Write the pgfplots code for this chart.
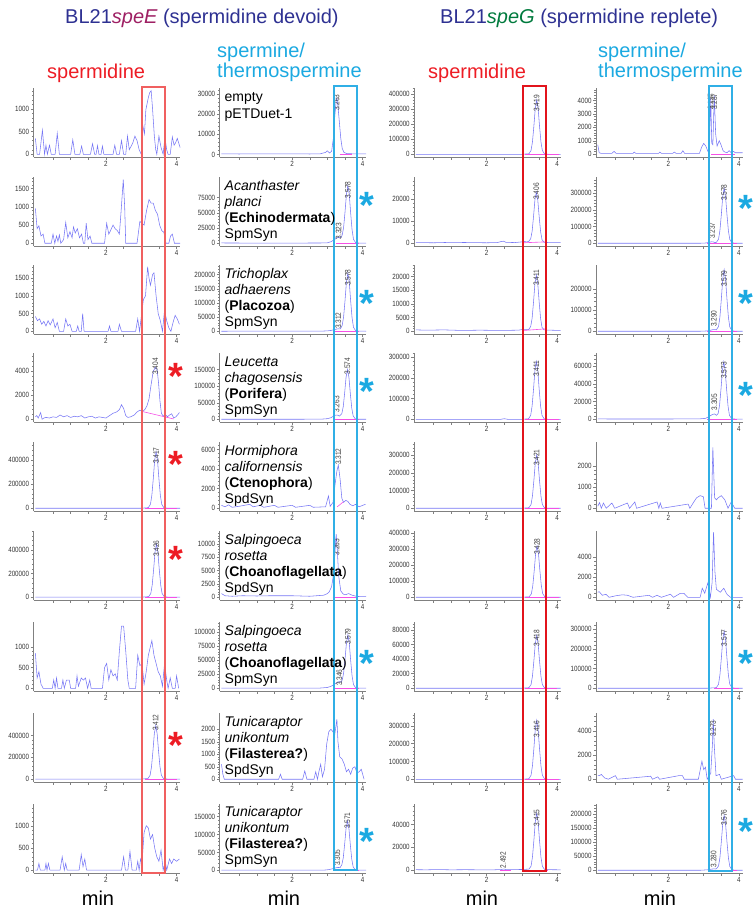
\documentclass[border=0pt]{standalone}
\usepackage{fontspec}
\setmainfont{Liberation Sans}
\newfontfamily\narrowfont[FakeStretch=0.82]{Liberation Sans}
\usepackage{pgfplots}
\pgfplotsset{compat=1.18}

\definecolor{titleblue}{RGB}{46,49,146}
\definecolor{speEcol}{RGB}{158,31,99}
\definecolor{speGcol}{RGB}{0,122,61}
\definecolor{sred}{RGB}{237,28,36}
\definecolor{scyan}{RGB}{27,169,225}
\definecolor{tracecol}{RGB}{118,118,245}
\definecolor{pinkbase}{RGB}{245,80,230}
\definecolor{rectredA}{RGB}{240,96,96}
\definecolor{rectredB}{RGB}{226,20,28}
\definecolor{rectcyan}{RGB}{48,175,230}

\pgfplotsset{
  chrom/.style={
    scale only axis, width=146.5pt, height=69pt,
    anchor=south west,
    xmin=-0.05, xmax=4.1,
    axis x line*=bottom, axis y line*=left,
    axis line style={draw=black!50, line width=0.5pt},
    xtick={0.5,1,1.5,2,2.5,3,3.5,4},
    xticklabels={,,,2,,,,4},
    minor y tick num=4,
    tick align=outside,
    major tick length=2.8pt, minor tick length=1.6pt,
    tick style={draw=black!50, line width=0.4pt},
    tick label style={font=\narrowfont\fontsize{7.6}{8}\selectfont, text=black!80},
    /pgf/number format/assume math mode=true,
    /pgf/number format/fixed,
    /pgf/number format/1000 sep={},
    scaled y ticks=false,
    xticklabel style={inner sep=1.5pt},
    yticklabel style={inner sep=1.5pt},
    clip=false,
  },
  trace/.style={draw=tracecol, line width=0.55pt, mark=none},
  bline/.style={draw=pinkbase, line width=0.6pt, mark=none},
}
\tikzset{
  plbl/.style={rotate=90, anchor=west, inner sep=0pt,
    font=\narrowfont\fontsize{8}{8}\selectfont, text=black!75},
  rl/.style={anchor=base west, inner sep=0pt, font=\fontsize{14}{16}\selectfont},
  window/.style={line width=2pt},
}

% significance star: #1 colour, #2 x, #3 y of the star's top
\newcommand{\sigstar}[3]{\node[anchor=north, inner sep=0pt, text=#1,
  font=\bfseries\fontsize{38}{38}\selectfont] at (#2pt,-#3pt) {*};}

\begin{document}
\begin{tikzpicture}
\useasboundingbox (0pt,0pt) rectangle (753pt,-913pt);

% ---------- headings ----------
\node[anchor=base west, inner sep=0pt, font=\fontsize{20}{24}\selectfont, text=titleblue]
  at (65pt,-23pt) {BL21\textit{\textcolor{speEcol}{speE}} (spermidine devoid)};
\node[anchor=base west, inner sep=0pt, font=\fontsize{20}{24}\selectfont, text=titleblue]
  at (440pt,-23pt) {BL21\textit{\textcolor{speGcol}{speG}} (spermidine replete)};
\node[anchor=base west, inner sep=0pt, font=\fontsize{20}{24}\selectfont, text=sred] at (47pt,-78pt) {spermidine};
\node[anchor=base west, inner sep=0pt, font=\fontsize{20}{24}\selectfont, text=sred] at (428pt,-78pt) {spermidine};
\node[anchor=base west, inner sep=0pt, font=\fontsize{20}{24}\selectfont, text=scyan] at (217pt,-57pt) {spermine/};
\node[anchor=base west, inner sep=0pt, font=\fontsize{20}{24}\selectfont, text=scyan] at (217pt,-77pt) {thermospermine};
\node[anchor=base west, inner sep=0pt, font=\fontsize{20}{24}\selectfont, text=scyan] at (598pt,-57pt) {spermine/};
\node[anchor=base west, inner sep=0pt, font=\fontsize{20}{24}\selectfont, text=scyan] at (598pt,-77pt) {thermospermine};

% ================= column 1: spermidine, speE =================
\begin{axis}[chrom, at={(33.6pt,-157pt)}, ymin=-60, ymax=1460, ytick={0,500,1000,1500}]
\addplot[trace] coordinates {(0,350)(0.05,0)(0.12,0)(0.2,530)(0.26,0)(0.3,200)(0.34,0)(0.4,200)(0.45,0)(0.56,0)(0.62,460)(0.68,0)(1.0,0)(1.06,320)(1.12,0)(1.26,0)(1.31,180)(1.36,0)(1.56,0)(1.62,230)(1.68,0)(1.72,0)(1.76,190)(1.8,0)(1.86,0)(1.9,180)(1.94,0)(2.2,0)(2.25,200)(2.3,0)(2.38,0)(2.44,300)(2.5,0)(2.56,0)(2.61,400)(2.66,100)(2.76,250)(2.82,400)(2.88,300)(2.94,100)(3.0,0)(3.04,650)(3.09,450)(3.13,980)(3.2,1250)(3.24,1360)(3.28,1400)(3.32,1000)(3.37,400)(3.41,100)(3.44,0)(3.5,400)(3.56,150)(3.62,0)(3.67,380)(3.72,100)(3.76,0)(3.82,0)(3.88,380)(3.93,200)(3.97,250)(4.02,350)(4.1,150)};
\end{axis}
\begin{axis}[chrom, at={(33.6pt,-246pt)}, ymin=-75, ymax=1820, ytick={0,500,1000,1500,2000}]
\addplot[trace] coordinates {(0,960)(0.05,400)(0.1,480)(0.16,200)(0.22,250)(0.27,0)(0.45,0)(0.5,250)(0.55,0)(0.6,200)(0.64,50)(0.68,230)(0.72,0)(0.8,100)(0.86,570)(0.92,150)(0.98,320)(1.04,150)(1.08,450)(1.13,280)(1.19,400)(1.25,150)(1.31,250)(1.36,0)(1.4,0)(1.44,550)(1.49,100)(1.55,200)(1.6,0)(1.96,0)(2.02,550)(2.08,250)(2.13,350)(2.2,500)(2.26,400)(2.32,350)(2.38,250)(2.43,900)(2.49,1750)(2.53,1000)(2.56,0)(2.88,0)(2.96,600)(3.02,550)(3.08,500)(3.15,900)(3.22,1200)(3.28,1100)(3.34,1100)(3.4,900)(3.46,800)(3.52,500)(3.58,350)(3.64,300)(3.7,0)(3.78,0)(3.83,200)(3.88,250)(3.94,0)(4.1,0)};
\end{axis}
\begin{axis}[chrom, at={(33.6pt,-334pt)}, ymin=-75, ymax=1870, ytick={0,500,1000,1500,2000}]
\addplot[trace] coordinates {(0,420)(0.06,300)(0.12,350)(0.18,200)(0.24,280)(0.3,150)(0.36,300)(0.42,180)(0.5,350)(0.56,100)(0.62,250)(0.68,0)(0.8,0)(0.86,350)(0.92,150)(0.98,200)(1.04,0)(1.16,0)(1.2,150)(1.24,0)(1.3,0)(1.34,500)(1.38,0)(2.06,0)(2.1,150)(2.14,0)(2.34,0)(2.38,200)(2.44,0)(2.84,0)(2.9,350)(2.95,0)(3.0,400)(3.06,900)(3.12,1000)(3.18,1820)(3.22,1500)(3.26,1300)(3.32,1600)(3.36,1650)(3.42,1000)(3.48,500)(3.54,300)(3.6,0)(3.66,600)(3.72,300)(3.78,100)(3.84,0)(3.9,250)(3.96,450)(4.02,350)(4.08,200)};
\end{axis}
\begin{axis}[chrom, at={(33.6pt,-422pt)}, ymin=-230, ymax=5500, ytick={0,2000,4000,6000}]
\addplot[trace] coordinates {(0,200)(0.04,300)(0.08,100)(0.15,550)(0.19,0)(0.24,100)(0.3,150)(0.4,100)(0.5,200)(0.6,150)(0.7,350)(0.8,200)(0.9,300)(1.0,150)(1.1,250)(1.2,200)(1.3,300)(1.4,100)(1.5,200)(1.6,250)(1.7,100)(1.8,200)(1.9,150)(2.0,100)(2.1,300)(2.2,500)(2.3,600)(2.38,800)(2.44,1200)(2.5,900)(2.56,300)(2.62,150)(2.7,200)(2.8,350)(2.88,600)(2.96,750)(3.04,650)(3.1,800)(3.16,1100)(3.22,1700)(3.28,2900)(3.34,4000)(3.4,4300)(3.45,4100)(3.49,3000)(3.53,1500)(3.57,500)(3.62,250)(3.68,400)(3.74,200)(3.8,350)(3.86,450)(3.92,100)(3.98,200)(4.04,400)(4.08,550)};
\addplot[bline] coordinates {(3.02,650)(3.92,20)};
\node[plbl] at (axis cs:3.40,3700) {3.404};
\end{axis}
\begin{axis}[chrom, at={(33.6pt,-511pt)}, ymin=-23000, ymax=550000, ytick={0,200000,400000,600000}]
\addplot[trace] coordinates {(0,0)(3.0,0)(3.2,4700)(3.26,32900)(3.3,108100)(3.34,244400)(3.38,399500)(3.42,470000)(3.46,399500)(3.5,244400)(3.54,108100)(3.58,32900)(3.64,4700)(3.75,0)(4.1,0)};
\addplot[bline] coordinates {(3.1,0)(4.0,0)};
\node[plbl] at (axis cs:3.42,366000) {3.417};
\end{axis}
\begin{axis}[chrom, at={(33.6pt,-600pt)}, ymin=-24000, ymax=560000, ytick={0,200000,400000,600000}]
\addplot[trace] coordinates {(0,0)(3.0,0)(3.21,4500)(3.27,31500)(3.31,103500)(3.35,234000)(3.39,382500)(3.43,450000)(3.47,382500)(3.51,234000)(3.55,103500)(3.59,31500)(3.65,4500)(3.76,0)(4.1,0)};
\addplot[bline] coordinates {(3.1,0)(4.0,0)};
\node[plbl] at (axis cs:3.43,340000) {3.426};
\end{axis}
\begin{axis}[chrom, at={(33.6pt,-691pt)}, ymin=-65, ymax=1600, ytick={0,500,1000}]
\addplot[trace] coordinates {(0,850)(0.05,250)(0.1,400)(0.16,100)(0.22,0)(0.48,0)(0.52,200)(0.56,0)(0.6,250)(0.64,0)(0.74,0)(0.78,200)(0.82,0)(0.88,200)(0.96,200)(1.0,0)(1.14,0)(1.18,300)(1.22,50)(1.3,250)(1.36,200)(1.42,250)(1.48,0)(1.54,200)(1.58,0)(1.9,0)(1.96,500)(2.02,600)(2.08,200)(2.14,450)(2.2,300)(2.26,350)(2.32,200)(2.38,900)(2.44,1500)(2.5,1500)(2.56,900)(2.62,200)(2.66,0)(2.84,0)(2.9,800)(2.96,550)(3.02,600)(3.08,100)(3.14,400)(3.2,800)(3.3,1150)(3.36,800)(3.42,600)(3.48,400)(3.54,300)(3.6,50)(3.66,600)(3.72,200)(3.76,0)(3.82,250)(3.88,0)(3.96,0)(4.0,300)(4.06,0)};
\end{axis}
\begin{axis}[chrom, at={(33.6pt,-782pt)}, ymin=-27000, ymax=606000, ytick={0,200000,400000}]
\addplot[trace] coordinates {(0,0)(3.0,0)(3.19,4900)(3.25,34300)(3.29,112700)(3.33,254800)(3.37,416500)(3.41,490000)(3.45,416500)(3.49,254800)(3.53,112700)(3.57,34300)(3.63,4900)(3.74,0)(4.1,0)};
\addplot[bline] coordinates {(3.1,0)(4.0,0)};
\node[plbl] at (axis cs:3.41,440000) {3.412};
\end{axis}
\begin{axis}[chrom, at={(33.6pt,-873pt)}, ymin=-65, ymax=1490, ytick={0,500,1000,1500}]
\addplot[trace] coordinates {(0,0)(0.06,0)(0.1,150)(0.14,0)(0.27,0)(0.3,150)(0.33,0)(0.37,150)(0.41,0)(0.7,0)(0.76,300)(0.82,0)(0.86,150)(0.9,0)(1.24,0)(1.3,350)(1.35,80)(1.4,250)(1.45,0)(2.44,0)(2.5,300)(2.55,0)(2.62,0)(2.68,420)(2.74,0)(2.86,0)(2.9,200)(2.94,0)(2.98,250)(3.02,150)(3.08,850)(3.14,1000)(3.2,950)(3.26,700)(3.32,800)(3.38,500)(3.44,300)(3.5,200)(3.56,450)(3.62,0)(3.68,200)(3.72,0)(3.8,250)(3.86,150)(3.92,250)(4.0,200)(4.08,250)};
\end{axis}

% ================= column 2: spermine/thermospermine, speE =================
\begin{axis}[chrom, at={(219.7pt,-157pt)}, ymin=-1300, ymax=33000, ytick={0,10000,20000,30000,40000}]
\addplot[trace] coordinates {(0,300)(0.5,200)(1.0,300)(1.5,250)(2.0,300)(2.5,200)(2.8,300)(2.95,1000)(3.0,1800)(3.06,700)(3.12,1500)(3.17,8000)(3.21,19000)(3.25,26500)(3.27,28000)(3.3,24000)(3.34,16000)(3.38,8000)(3.42,3000)(3.47,1000)(3.55,400)(3.7,300)(4.1,300)};
\addplot[bline] coordinates {(3.35,0)(3.7,0)};
\node[plbl] at (axis cs:3.26,21500) {3.263};
\end{axis}
\begin{axis}[chrom, at={(219.7pt,-246pt)}, ymin=-4500, ymax=109000, ytick={0,25000,50000,75000}]
\addplot[trace] coordinates {(0,500)(1,300)(2,300)(2.9,500)(3.0,800)(3.1,2500)(3.2,6000)(3.28,9500)(3.33,10000)(3.38,9000)(3.42,13500)(3.46,26000)(3.5,51400)(3.54,80750)(3.58,95000)(3.62,80750)(3.66,49400)(3.7,21850)(3.74,6650)(3.8,950)(3.9,300)(4.1,300)};
\addplot[bline] coordinates {(3.25,0)(3.9,0)};
\node[plbl] at (axis cs:3.58,74000) {3.578};
\node[plbl] at (axis cs:3.32,6000) {3.323};
\end{axis}
\begin{axis}[chrom, at={(219.7pt,-334pt)}, ymin=-9500, ymax=234000, ytick={0,50000,100000,150000,200000,250000}]
\addplot[trace] coordinates {(0,300)(2.8,500)(3.0,1500)(3.1,3000)(3.2,6000)(3.28,8500)(3.32,9000)(3.37,8500)(3.42,21000)(3.46,51000)(3.5,108600)(3.54,174250)(3.58,205000)(3.62,174250)(3.66,106600)(3.7,47150)(3.74,14350)(3.8,2050)(3.9,500)(4.1,300)};
\addplot[bline] coordinates {(3.2,0)(3.9,0)};
\node[plbl] at (axis cs:3.58,160000) {3.578};
\node[plbl] at (axis cs:3.31,8000) {3.312};
\end{axis}
\begin{axis}[chrom, at={(219.7pt,-422pt)}, ymin=-8000, ymax=200000, ytick={0,50000,100000,150000}]
\addplot[trace] coordinates {(0,300)(2.8,400)(3.0,2000)(3.1,5000)(3.18,10000)(3.24,13000)(3.29,12500)(3.34,10000)(3.41,17500)(3.45,38500)(3.49,80000)(3.53,127500)(3.57,150000)(3.61,127500)(3.65,78000)(3.69,34500)(3.73,10500)(3.79,1500)(3.9,300)(4.1,300)};
\addplot[bline] coordinates {(3.2,0)(3.9,0)};
\node[plbl] at (axis cs:3.57,135000) {3.574};
\node[plbl] at (axis cs:3.26,20000) {3.263};
\end{axis}
\begin{axis}[chrom, at={(219.7pt,-511pt)}, ymin=-280, ymax=6760, ytick={0,2000,4000,6000,8000}]
\addplot[trace] coordinates {(0,300)(0.1,150)(0.2,350)(0.3,100)(0.5,200)(0.8,400)(0.9,150)(1.1,300)(1.2,100)(1.5,300)(1.6,100)(2.0,300)(2.1,100)(2.5,300)(2.6,100)(2.95,150)(3.03,1250)(3.08,200)(3.16,600)(3.22,2500)(3.27,3800)(3.31,4400)(3.36,3000)(3.41,1000)(3.46,600)(3.52,800)(3.58,700)(3.64,400)(3.72,250)(3.8,400)(3.9,150)(4.0,300)(4.08,400)};
\addplot[bline] coordinates {(3.28,150)(3.45,650)};
\node[plbl] at (axis cs:3.31,4400) {3.312};
\end{axis}
\begin{axis}[chrom, at={(219.7pt,-600pt)}, ymin=-500, ymax=12400, ytick={0,2500,5000,7500,10000,12500}]
\addplot[trace] coordinates {(0,700)(0.1,300)(0.3,200)(0.6,300)(1.0,250)(1.4,300)(2.0,300)(2.5,200)(2.9,400)(3.0,700)(3.05,1000)(3.12,2000)(3.18,4500)(3.22,9000)(3.25,11800)(3.28,9000)(3.32,4000)(3.38,1200)(3.45,600)(3.52,500)(3.6,700)(3.7,400)(3.85,150)(4.1,200)};
\addplot[bline] coordinates {(3.15,0)(3.85,0)};
\node[plbl] at (axis cs:3.26,7800) {3.263};
\end{axis}
\begin{axis}[chrom, at={(219.7pt,-691pt)}, ymin=-4800, ymax=118000, ytick={0,25000,50000,75000,100000,125000}]
\addplot[trace] coordinates {(0,500)(2.8,500)(3.0,1500)(3.1,3500)(3.2,7000)(3.28,10500)(3.34,12000)(3.39,11000)(3.42,14650)(3.46,26850)(3.5,51400)(3.54,80750)(3.58,95000)(3.62,80750)(3.66,49400)(3.7,21850)(3.74,6650)(3.8,950)(3.9,300)(4.1,300)};
\addplot[bline] coordinates {(3.2,0)(3.9,0)};
\node[plbl] at (axis cs:3.58,77000) {3.579};
\node[plbl] at (axis cs:3.34,4000) {3.346};
\end{axis}
\begin{axis}[chrom, at={(219.7pt,-782pt)}, ymin=-110, ymax=2650, ytick={0,500,1000,1500,2000}]
\addplot[trace] coordinates {(0,600)(0.04,200)(0.08,0)(1.62,0)(1.67,200)(1.72,0)(2.3,0)(2.36,330)(2.42,0)(2.62,0)(2.67,300)(2.72,0)(2.76,300)(2.81,600)(2.86,100)(2.92,400)(2.98,1400)(3.04,1900)(3.1,2000)(3.16,1900)(3.2,1700)(3.24,2100)(3.27,2400)(3.3,1500)(3.35,900)(3.42,800)(3.48,600)(3.54,300)(3.6,400)(3.66,200)(3.72,450)(3.78,500)(3.84,250)(3.9,300)(3.96,400)(4.04,0)};
\end{axis}
\begin{axis}[chrom, at={(219.7pt,-873pt)}, ymin=-7500, ymax=185000, ytick={0,50000,100000,150000,200000}]
\addplot[trace] coordinates {(0,300)(2.9,500)(3.05,2000)(3.15,4500)(3.24,7000)(3.3,8000)(3.36,7500)(3.41,15660)(3.45,34740)(3.49,73260)(3.53,117300)(3.57,138000)(3.61,117300)(3.65,71760)(3.69,31740)(3.73,9660)(3.79,1380)(3.9,300)(4.1,300)};
\addplot[bline] coordinates {(3.2,0)(3.9,0)};
\node[plbl] at (axis cs:3.57,115000) {3.571};
\node[plbl] at (axis cs:3.28,12000) {3.305};
\end{axis}

% ================= column 3: spermidine, speG =================
\begin{axis}[chrom, at={(414.2pt,-157pt)}, ymin=-18000, ymax=440000, ytick={0,100000,200000,300000,400000,500000}]
\addplot[trace] coordinates {(0,0)(3.0,0)(3.2,3600)(3.26,25200)(3.3,82800)(3.34,187200)(3.38,306000)(3.42,360000)(3.46,306000)(3.5,187200)(3.54,82800)(3.58,25200)(3.64,3600)(3.75,0)(4.1,0)};
\addplot[bline] coordinates {(3.1,0)(4.05,0)};
\node[plbl] at (axis cs:3.42,282000) {3.419};
\end{axis}
\begin{axis}[chrom, at={(414.2pt,-246pt)}, ymin=-1250, ymax=29800, ytick={0,10000,20000,30000}]
\addplot[trace] coordinates {(0,300)(0.5,200)(1.0,400)(1.5,300)(2.0,200)(2.3,300)(2.4,700)(2.48,900)(2.55,400)(2.8,300)(3.0,600)(3.06,900)(3.12,600)(3.19,730)(3.25,2010)(3.29,5290)(3.33,11960)(3.37,19550)(3.41,23000)(3.45,19550)(3.49,11960)(3.53,5290)(3.57,1610)(3.63,400)(3.75,300)(4.1,300)};
\addplot[bline] coordinates {(3.05,200)(3.65,600)};
\node[plbl] at (axis cs:3.41,19500) {3.406};
\end{axis}
\begin{axis}[chrom, at={(414.2pt,-334pt)}, ymin=-1000, ymax=24200, ytick={0,5000,10000,15000,20000,25000}]
\addplot[trace] coordinates {(0,500)(0.3,400)(0.8,500)(1.3,300)(1.8,400)(2.4,300)(2.9,400)(3.0,600)(3.19,600)(3.25,1735)(3.29,4715)(3.33,10660)(3.37,17425)(3.41,20500)(3.45,17425)(3.49,10660)(3.53,4715)(3.57,1435)(3.63,500)(3.8,400)(4.1,300)};
\addplot[bline] coordinates {(3.05,300)(3.7,900)};
\node[plbl] at (axis cs:3.41,16500) {3.411};
\end{axis}
\begin{axis}[chrom, at={(414.2pt,-422pt)}, ymin=-13000, ymax=321000, ytick={0,100000,200000,300000,400000}]
\addplot[trace] coordinates {(0,0)(2.4,0)(2.5,3000)(2.6,0)(3.0,0)(3.19,2800)(3.25,19600)(3.29,64400)(3.33,145600)(3.37,238000)(3.41,280000)(3.45,238000)(3.49,145600)(3.53,64400)(3.57,19600)(3.63,2800)(3.75,0)(4.1,0)};
\addplot[bline] coordinates {(3.1,0)(4.05,0)};
\node[plbl] at (axis cs:3.41,204000) {3.411};
\end{axis}
\begin{axis}[chrom, at={(414.2pt,-511pt)}, ymin=-15500, ymax=373000, ytick={0,100000,200000,300000,400000}]
\addplot[trace] coordinates {(0,0)(3.0,0)(3.2,3000)(3.26,21000)(3.3,69000)(3.34,156000)(3.38,255000)(3.42,300000)(3.46,255000)(3.5,156000)(3.54,69000)(3.58,21000)(3.64,3000)(3.75,0)(4.1,0)};
\addplot[bline] coordinates {(3.1,0)(4.05,0)};
\node[plbl] at (axis cs:3.42,238000) {3.421};
\end{axis}
\begin{axis}[chrom, at={(414.2pt,-600pt)}, ymin=-17000, ymax=412000, ytick={0,100000,200000,300000,400000}]
\addplot[trace] coordinates {(0,0)(3.0,0)(3.21,3200)(3.27,22400)(3.31,73600)(3.35,166400)(3.39,272000)(3.43,320000)(3.47,272000)(3.51,166400)(3.55,73600)(3.59,22400)(3.65,3200)(3.76,0)(4.1,0)};
\addplot[bline] coordinates {(3.1,0)(4.05,0)};
\node[plbl] at (axis cs:3.43,263000) {3.428};
\end{axis}
\begin{axis}[chrom, at={(414.2pt,-691pt)}, ymin=-3800, ymax=90700, ytick={0,20000,40000,60000,80000,100000}]
\addplot[trace] coordinates {(0,0)(3.0,0)(3.2,720)(3.26,5040)(3.3,16560)(3.34,37440)(3.38,61200)(3.42,72000)(3.46,61200)(3.5,37440)(3.54,16560)(3.58,5040)(3.64,720)(3.75,0)(4.1,0)};
\addplot[bline] coordinates {(3.1,0)(4.0,0)};
\node[plbl] at (axis cs:3.42,57000) {3.418};
\end{axis}
\begin{axis}[chrom, at={(414.2pt,-782pt)}, ymin=-15000, ymax=371000, ytick={0,100000,200000,300000,400000}]
\addplot[trace] coordinates {(0,0)(3.0,0)(3.2,3300)(3.26,23100)(3.3,75900)(3.34,171600)(3.38,280500)(3.42,330000)(3.46,280500)(3.5,171600)(3.54,75900)(3.58,23100)(3.64,3300)(3.75,0)(4.1,0)};
\addplot[bline] coordinates {(3.1,0)(4.05,0)};
\node[plbl] at (axis cs:3.42,235000) {3.416};
\end{axis}
\begin{axis}[chrom, at={(414.2pt,-873pt)}, ymin=-2500, ymax=58000, ytick={0,20000,40000,60000}]
\addplot[trace] coordinates {(0,400)(0.3,300)(0.6,500)(1.0,300)(1.4,400)(1.8,300)(2.2,300)(2.4,500)(2.49,1000)(2.56,400)(2.8,500)(3.0,600)(3.2,900)(3.26,3500)(3.3,11500)(3.34,26000)(3.38,42500)(3.42,50000)(3.46,42500)(3.5,26000)(3.54,11500)(3.58,3500)(3.64,700)(3.8,400)(4.1,300)};
\addplot[bline] coordinates {(2.38,0)(2.7,0)};
\addplot[bline] coordinates {(3.05,0)(3.75,0)};
\node[plbl] at (axis cs:3.42,38500) {3.415};
\node[plbl] at (axis cs:2.47,1500) {2.492};
\end{axis}

% ================= column 4: spermine/thermospermine, speG =================
\begin{axis}[chrom, at={(596pt,-157pt)}, ymin=-220, ymax=4950, ytick={0,1000,2000,3000,4000,5000}]
\addplot[trace] coordinates {(0,700)(0.04,100)(0.1,50)(0.4,50)(0.46,200)(0.52,50)(1.0,50)(1.03,150)(1.08,50)(1.72,50)(1.76,150)(1.8,50)(2.12,50)(2.17,150)(2.22,50)(2.36,50)(2.41,250)(2.46,50)(2.88,50)(2.94,500)(3.0,800)(3.06,600)(3.12,200)(3.16,300)(3.2,4200)(3.23,800)(3.26,700)(3.3,4400)(3.34,1500)(3.38,600)(3.44,1000)(3.49,700)(3.55,250)(3.6,150)(3.66,100)(3.72,250)(3.78,100)(3.84,200)(3.9,100)(4.1,100)};
\addplot[bline] coordinates {(3.22,0)(3.88,0)};
\node[plbl] at (axis cs:3.2,3300) {3.197};
\node[plbl] at (axis cs:3.3,3300) {3.287};
\end{axis}
\begin{axis}[chrom, at={(596pt,-246pt)}, ymin=-16500, ymax=398000, ytick={0,100000,200000,300000,400000}]
\addplot[trace] coordinates {(0,0)(2.9,0)(3.05,1500)(3.15,5000)(3.22,9000)(3.27,8000)(3.32,4000)(3.36,5300)(3.42,24100)(3.46,75900)(3.5,171600)(3.54,280500)(3.58,330000)(3.62,280500)(3.66,171600)(3.7,75900)(3.74,23100)(3.8,3300)(3.9,0)(4.1,0)};
\addplot[bline] coordinates {(3.1,0)(3.95,0)};
\node[plbl] at (axis cs:3.58,254000) {3.578};
\node[plbl] at (axis cs:3.24,25000) {3.237};
\end{axis}
\begin{axis}[chrom, at={(596pt,-334pt)}, ymin=-13000, ymax=312000, ytick={0,100000,200000}]
\addplot[trace] coordinates {(0,0)(2.9,0)(3.1,1500)(3.2,5000)(3.27,8000)(3.32,7500)(3.36,6900)(3.42,21800)(3.46,66700)(3.5,150800)(3.54,246500)(3.58,290000)(3.62,246500)(3.66,150800)(3.7,66700)(3.74,20300)(3.8,2900)(3.9,0)(4.1,0)};
\addplot[bline] coordinates {(3.1,0)(3.95,0)};
\node[plbl] at (axis cs:3.58,208000) {3.579};
\node[plbl] at (axis cs:3.29,20000) {3.290};
\end{axis}
\begin{axis}[chrom, at={(596pt,-422pt)}, ymin=-3100, ymax=75000, ytick={0,20000,40000,60000,80000}]
\addplot[trace] coordinates {(0,500)(0.3,300)(1,300)(2,300)(2.9,500)(3.05,1000)(3.15,3000)(3.25,5500)(3.31,6000)(3.36,4500)(3.41,6550)(3.45,15750)(3.49,33800)(3.53,55250)(3.57,65000)(3.61,55250)(3.65,33800)(3.69,14950)(3.73,4550)(3.79,650)(3.9,200)(4.1,200)};
\addplot[bline] coordinates {(3.1,0)(3.95,0)};
\node[plbl] at (axis cs:3.57,45800) {3.573};
\node[plbl] at (axis cs:3.30,10000) {3.305};
\end{axis}
\begin{axis}[chrom, at={(596pt,-511pt)}, ymin=-130, ymax=3150, ytick={0,1000,2000}]
\addplot[trace] coordinates {(0,100)(0.05,270)(0.1,0)(0.16,250)(0.24,0)(0.4,250)(0.48,0)(0.84,250)(0.9,0)(1.05,300)(1.1,0)(1.68,300)(1.73,0)(1.77,250)(1.82,0)(2.56,200)(2.61,0)(2.72,300)(2.8,500)(2.9,600)(2.99,550)(3.04,0)(3.22,0)(3.26,2900)(3.31,500)(3.36,400)(3.41,500)(3.5,600)(3.6,400)(3.69,0)(3.78,300)(3.88,0)(4.1,0)};
\end{axis}
\begin{axis}[chrom, at={(596pt,-600pt)}, ymin=-270, ymax=6600, ytick={0,2000,4000}]
\addplot[trace] coordinates {(0,500)(0.04,560)(0.13,200)(0.23,300)(0.32,0)(0.51,150)(0.7,250)(0.84,200)(1.0,0)(1.45,200)(1.55,0)(1.68,200)(1.8,0)(2.06,300)(2.15,0)(2.34,400)(2.44,400)(2.55,0)(2.9,0)(2.96,900)(3.03,400)(3.12,1450)(3.19,0)(3.24,1500)(3.28,6500)(3.32,2500)(3.36,800)(3.47,500)(3.57,900)(3.66,300)(3.76,0)(4.1,0)};
\end{axis}
\begin{axis}[chrom, at={(596pt,-691pt)}, ymin=-14000, ymax=336000, ytick={0,100000,200000,300000,400000}]
\addplot[trace] coordinates {(0,0)(3.1,0)(3.36,2900)(3.42,20300)(3.46,66700)(3.5,150800)(3.54,246500)(3.58,290000)(3.62,246500)(3.66,150800)(3.7,66700)(3.74,20300)(3.8,2900)(3.9,0)(4.1,0)};
\addplot[bline] coordinates {(3.3,0)(4.0,0)};
\node[plbl] at (axis cs:3.58,213000) {3.577};
\end{axis}
\begin{axis}[chrom, at={(596pt,-782pt)}, ymin=-230, ymax=5500, ytick={0,2000,4000,6000}]
\addplot[trace] coordinates {(0,300)(0.05,300)(0.1,400)(0.2,100)(0.3,0)(0.5,300)(0.55,0)(1.5,250)(1.55,0)(1.7,200)(1.75,0)(2.3,300)(2.4,300)(2.45,0)(2.85,0)(2.95,1500)(3.0,800)(3.05,1000)(3.1,0)(3.2,500)(3.25,3000)(3.27,5000)(3.3,2800)(3.35,300)(3.45,400)(3.5,0)(3.85,300)(3.9,0)(4.1,0)};
\node[plbl] at (axis cs:3.27,3500) {3.273};
\end{axis}
\begin{axis}[chrom, at={(596pt,-873pt)}, ymin=-9800, ymax=236000, ytick={0,50000,100000,150000,200000,250000}]
\addplot[trace] coordinates {(0,0)(2.9,0)(3.1,1500)(3.2,3500)(3.28,5000)(3.33,4500)(3.36,5500)(3.42,15000)(3.46,44850)(3.5,101400)(3.54,165750)(3.58,195000)(3.62,165750)(3.66,101400)(3.7,44850)(3.74,13650)(3.8,1950)(3.9,0)(4.1,0)};
\addplot[bline] coordinates {(3.2,0)(3.95,0)};
\node[plbl] at (axis cs:3.58,157000) {3.576};
\node[plbl] at (axis cs:3.28,10000) {3.280};
\end{axis}

% ---------- retention windows ----------
\draw[window, draw=rectredA] (141.7pt,-87.3pt) rectangle (165pt,-872.7pt);
\draw[window, draw=rectcyan] (334pt,-85.7pt) rectangle (357.3pt,-870pt);
\draw[window, draw=rectredB] (523.3pt,-85.7pt) rectangle (546pt,-871pt);
\draw[window, draw=rectcyan] (709.3pt,-85.7pt) rectangle (731.7pt,-871pt);

% ---------- construct labels ----------
\path (224.5pt,-101.5pt) node[rl]{empty} ++(0,-16.6pt) node[rl]{pETDuet-1};
\path (224.5pt,-190.5pt) node[rl]{\textit{Acanthaster}} ++(0,-16pt) node[rl]{\textit{planci}} ++(0,-16pt) node[rl]{(\textbf{Echinodermata})} ++(0,-16pt) node[rl]{SpmSyn};
\path (224.5pt,-278.5pt) node[rl]{\textit{Trichoplax}} ++(0,-16pt) node[rl]{\textit{adhaerens}} ++(0,-16pt) node[rl]{(\textbf{Placozoa})} ++(0,-16pt) node[rl]{SpmSyn};
\path (224.5pt,-366.5pt) node[rl]{\textit{Leucetta}} ++(0,-16pt) node[rl]{\textit{chagosensis}} ++(0,-16pt) node[rl]{(\textbf{Porifera})} ++(0,-16pt) node[rl]{SpmSyn};
\path (224.5pt,-455pt) node[rl]{\textit{Hormiphora}} ++(0,-16pt) node[rl]{\textit{californensis}} ++(0,-16pt) node[rl]{(\textbf{Ctenophora})} ++(0,-16pt) node[rl]{SpdSyn};
\path (224.5pt,-544.5pt) node[rl]{\textit{Salpingoeca}} ++(0,-16pt) node[rl]{\textit{rosetta}} ++(0,-16pt) node[rl]{(\textbf{Choanoflagellata})} ++(0,-16pt) node[rl]{SpdSyn};
\path (224.5pt,-635pt) node[rl]{\textit{Salpingoeca}} ++(0,-16pt) node[rl]{\textit{rosetta}} ++(0,-16pt) node[rl]{(\textbf{Choanoflagellata})} ++(0,-16pt) node[rl]{SpmSyn};
\path (224.5pt,-726pt) node[rl]{\textit{Tunicaraptor}} ++(0,-16pt) node[rl]{\textit{unikontum}} ++(0,-16pt) node[rl]{(\textbf{Filasterea?})} ++(0,-16pt) node[rl]{SpdSyn};
\path (224.5pt,-816pt) node[rl]{\textit{Tunicaraptor}} ++(0,-16pt) node[rl]{\textit{unikontum}} ++(0,-16pt) node[rl]{(\textbf{Filasterea?})} ++(0,-16pt) node[rl]{SpmSyn};

% ---------- significance stars ----------
\sigstar{sred}{176}{363}
\sigstar{sred}{176}{451}
\sigstar{sred}{176}{546}
\sigstar{sred}{176}{732}
\sigstar{scyan}{367}{192}
\sigstar{scyan}{367}{290}
\sigstar{scyan}{367}{378}
\sigstar{scyan}{367}{650}
\sigstar{scyan}{367}{828}
\sigstar{scyan}{746}{195}
\sigstar{scyan}{746}{290}
\sigstar{scyan}{746}{382}
\sigstar{scyan}{746}{650}
\sigstar{scyan}{746}{818}

% ---------- time axis titles ----------
\foreach \mx in {98,284,482,660}
  \node[anchor=base, inner sep=0pt, font=\fontsize{20}{24}\selectfont] at (\mx pt,-905pt) {min};
\end{tikzpicture}
\end{document}
